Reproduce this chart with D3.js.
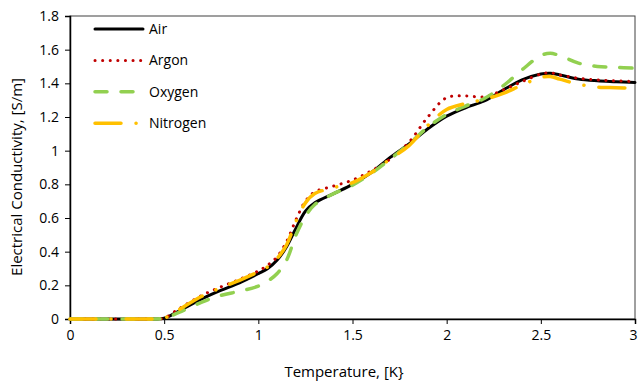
<!DOCTYPE html>
<html><head><meta charset="utf-8">
<script src="https://cdn.jsdelivr.net/npm/d3@7"></script>
<style>body{margin:0;background:#fff}svg{display:block}text{font-family:"Open Sans",sans-serif}</style>
</head><body><svg id="c" width="638" height="383"></svg>
<script>
const temperature = [0,0.1,0.2,0.3,0.4,0.45,0.5,0.55,0.6,0.7,0.8,0.9,1.0,1.05,1.1,1.15,1.2,1.25,1.3,1.4,1.5,1.6,1.7,1.8,1.9,2.0,2.1,2.2,2.3,2.4,2.5,2.55,2.6,2.7,2.8,2.9,3.0];
const air      = [0,0,0,0,0,0,0.005,0.03,0.06,0.12,0.17,0.215,0.27,0.3,0.35,0.43,0.54,0.64,0.69,0.745,0.8,0.87,0.96,1.04,1.13,1.205,1.255,1.295,1.36,1.42,1.455,1.46,1.45,1.425,1.415,1.41,1.405];
const argon    = [0,0,0,0,0,0,0.005,0.04,0.075,0.14,0.19,0.235,0.285,0.32,0.37,0.46,0.59,0.7,0.755,0.79,0.825,0.88,0.95,1.05,1.2,1.315,1.325,1.32,1.36,1.41,1.455,1.463,1.45,1.43,1.42,1.415,1.41];
const oxygen   = [0,0,0,0,0,0,0.005,0.025,0.05,0.1,0.14,0.165,0.195,0.225,0.27,0.35,0.5,0.61,0.68,0.745,0.795,0.865,0.95,1.04,1.14,1.215,1.265,1.31,1.385,1.48,1.565,1.578,1.565,1.52,1.5,1.495,1.49];
const nitrogen = [0,0,0,0,0,0,0.005,0.035,0.07,0.135,0.185,0.23,0.28,0.31,0.36,0.44,0.58,0.69,0.745,0.78,0.81,0.87,0.95,1.03,1.15,1.245,1.28,1.305,1.34,1.39,1.435,1.44,1.425,1.395,1.378,1.374,1.37];
const seriesNames = ["Air","Argon","Oxygen","Nitrogen"];
const xTicks = [0,0.5,1,1.5,2,2.5,3];
const yTicks = [0,0.2,0.4,0.6,0.8,1,1.2,1.4,1.6,1.8];

const svg = d3.select("#c");
const L=70,R=635,T=16,B=319;
const x = d3.scaleLinear().domain([0,3]).range([L,R]);
const y = d3.scaleLinear().domain([0,1.8]).range([B,T]);
const styles = {
  Air:{color:"#000000",width:3,dash:null,cap:"round"},
  Argon:{color:"#c00000",width:3,dash:"0.1,7.5",cap:"round"},
  Oxygen:{color:"#92d050",width:3.5,dash:"12,14",cap:"round"},
  Nitrogen:{color:"#ffc000",width:3.5,dash:"26,15,0.1,15",cap:"round"}
};
const data = {Air:air,Argon:argon,Oxygen:oxygen,Nitrogen:nitrogen};

svg.append("rect").attr("x",L).attr("y",T).attr("width",R-L).attr("height",B-T)
  .attr("fill","none").attr("stroke","#404040").attr("stroke-width",1);

const gx = svg.append("g").attr("transform",`translate(0,${B})`)
  .call(d3.axisBottom(x).tickValues(xTicks).tickSize(5).tickPadding(6).tickFormat(d=>String(d)));
const gy = svg.append("g").attr("transform",`translate(${L},0)`)
  .call(d3.axisLeft(y).tickValues(yTicks).tickSize(5).tickPadding(6).tickFormat(d=>String(+d.toFixed(1))));
[gx,gy].forEach(g=>{
  g.select(".domain").attr("stroke","#000").attr("stroke-width",1.5);
  g.selectAll(".tick line").attr("stroke","#000");
  g.selectAll(".tick text").attr("fill","#000").style("font-size","14px").style("font-family","'Open Sans', sans-serif");
});
// keep the last x label inside the canvas
gx.selectAll(".tick").filter(d=>d===3).select("text").attr("text-anchor","end").attr("x",2);

const line = d3.line().curve(d3.curveCatmullRom.alpha(0.5));
seriesNames.forEach(n=>{
  const s=styles[n];
  const pts = temperature.map((t,i)=>[x(t),y(data[n][i])]);
  svg.append("path").attr("d",line(pts)).attr("fill","none")
    .attr("stroke",s.color).attr("stroke-width",s.width)
    .attr("stroke-dasharray",s.dash).attr("stroke-linecap",s.cap).attr("stroke-linejoin","round");
});

const lg = svg.append("g");
seriesNames.forEach((n,i)=>{
  const s=styles[n], yy=29+i*31.4;
  lg.append("line").attr("x1",95).attr("x2",143).attr("y1",yy).attr("y2",yy)
    .attr("stroke",s.color).attr("stroke-width",s.width)
    .attr("stroke-dasharray",s.dash).attr("stroke-linecap",s.cap);
  lg.append("text").attr("x",149).attr("y",yy+5).text(n).style("font-size","14px").attr("fill","#000");
});

svg.append("text").attr("x",344).attr("y",377).attr("text-anchor","middle")
  .style("font-size","15px").attr("fill","#000").text("Temperature, [K}");
svg.append("text").attr("transform",`translate(22,177) rotate(-90)`).attr("text-anchor","middle")
  .style("font-size","15px").attr("fill","#000").text("Electrical Conductivity, [S/m]");
</script></body></html>
